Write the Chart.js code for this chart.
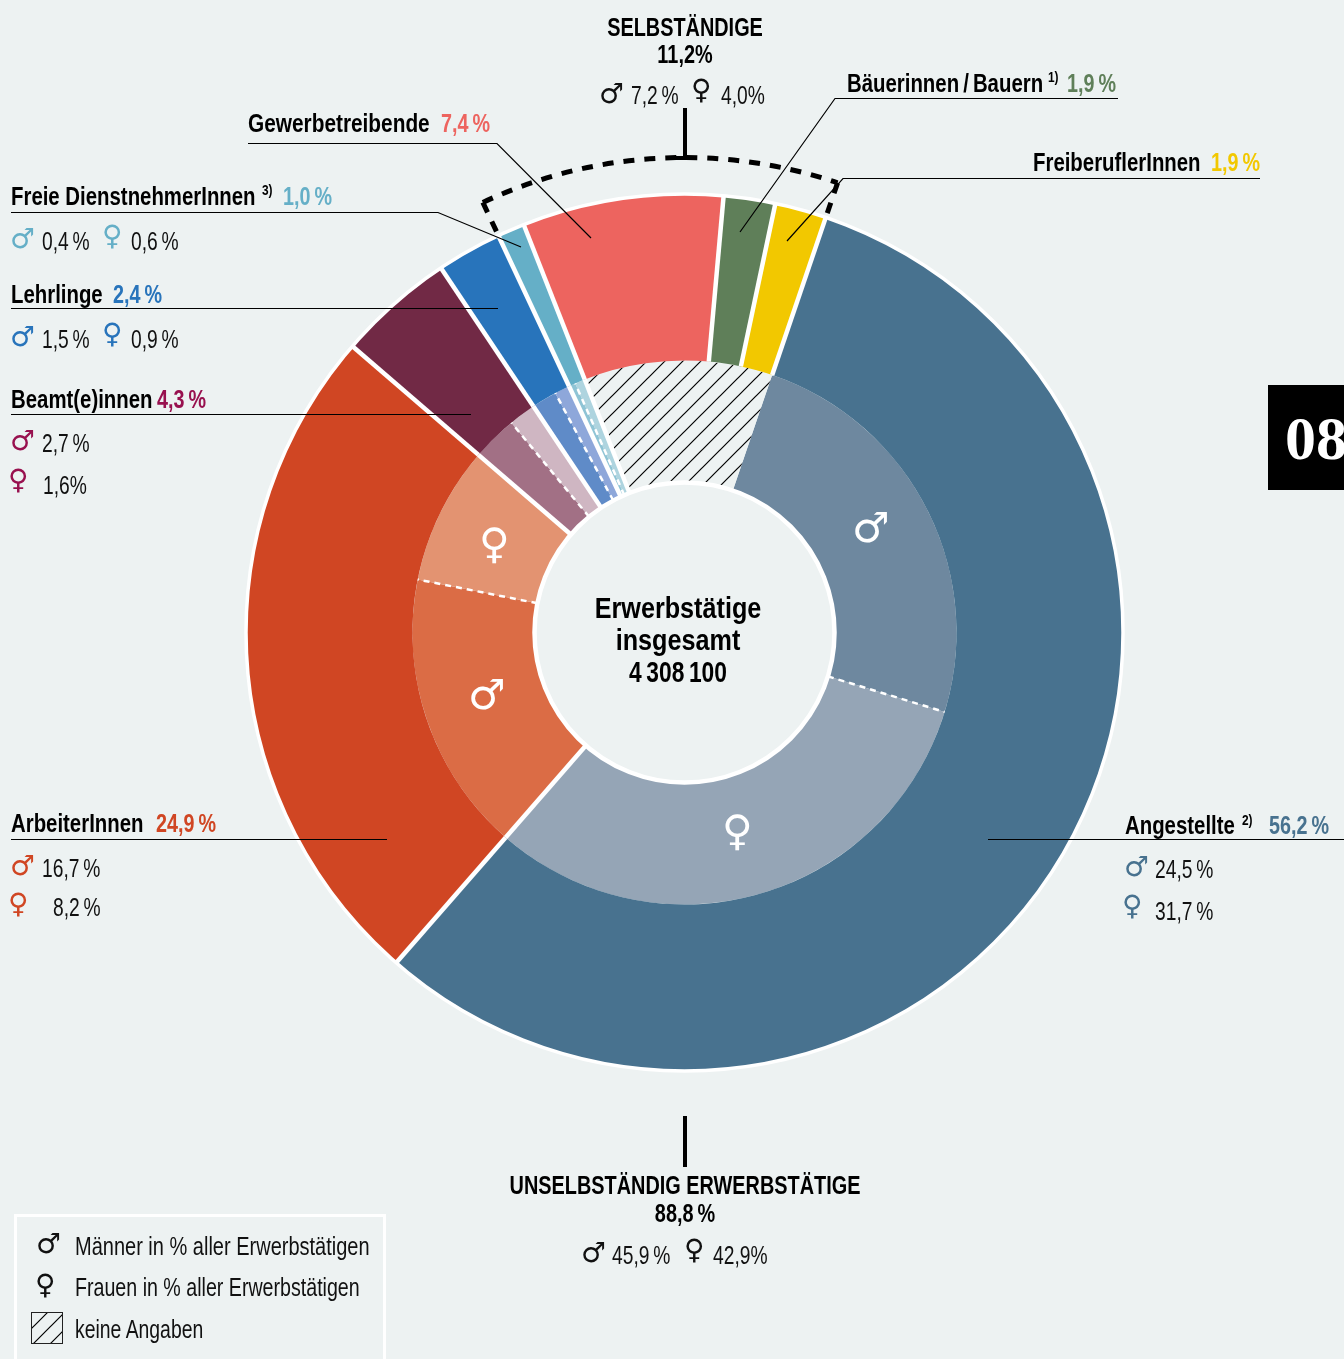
<!DOCTYPE html>
<html lang="de">
<head>
<meta charset="utf-8">
<title>Erwerbstätige</title>
<script src="https://cdn.jsdelivr.net/npm/chart.js@4/dist/chart.umd.min.js"></script>
<style>
    html, body { margin: 0; padding: 0; background: #edf2f2; }
    #page { position: relative; width: 1344px; height: 1359px; overflow: hidden; }
    #chart { position: absolute; left: 0; top: 0; }
    .t { position: absolute; line-height: 0; white-space: nowrap; font-family: "Liberation Sans", sans-serif; color: #111; transform-origin: 0 0; }
    .b { font-weight: bold; font-size: 25px; color: #000; transform: scaleX(.815); }
    .p { font-weight: bold; font-size: 25px; transform: scaleX(.79); }
    .n { font-size: 25px; transform: scaleX(.77); }
    .s { font-weight: bold; font-size: 14px; color: #000; transform: scaleX(.85); }
    .c { transform-origin: 50% 0; transform: translateX(-50%) scaleX(.795); }
    .ctr { font-size: 30px; transform: translateX(-50%) scaleX(.84); }
    .g { font-family: "DejaVu Sans", sans-serif; font-size: 28px; transform: none; }
    .big { font-family: "DejaVu Sans", sans-serif; font-size: 42px; color: #fff; }
    #tab { position: absolute; left: 1268px; top: 385px; width: 76px; height: 105px; background: #000; overflow: hidden; }
    #tab span { position: absolute; left: 17px; top: 53px; font: bold 62px "Liberation Serif", serif; line-height: 0; color: #fff; }
    #legendBox { position: absolute; left: 14px; top: 1214px; width: 366px; height: 160px; border: 3px solid #fff; }
</style>
</head>
<body>
<div id="page">
    <canvas id="chart" width="1344" height="1359"></canvas>
    <div id="legendBox"></div>
    <div id="tab"><span>08</span></div>
</div>
<script>
var groups = ['Angestellte', 'ArbeiterInnen', 'Beamt(e)innen', 'Lehrlinge', 'Freie DienstnehmerInnen', 'Gewerbetreibende', 'Bäuerinnen/Bauern', 'FreiberuflerInnen'];
var groupValues = [56.2, 24.9, 4.3, 2.4, 1.0, 7.4, 1.9, 1.9];
var groupColors = ['#48728f', '#d04623', '#712945', '#2874bb', '#65afc7', '#ed645f', '#5f7f59', '#f2c800'];

// inner ring, only the first five groups have a split
var maleValues = [24.5, 16.7, 2.7, 1.5, 0.4];
var femaleValues = [31.7, 8.2, 1.6, 0.9, 0.6];
var maleColors = ['#6e889f', '#db6c45', '#a27085', '#5f8bc8', '#8fc4d5'];
var femaleColors = ['#95a5b6', '#e39371', '#cfb6c2', '#8ea7da', '#aed4df'];
var noData = 11.2;

var BG = '#edf2f2';
var MALE = '\u2642', FEMALE = '\u2640';

function makeHatch(size) {
    var c = document.createElement('canvas');
    c.width = size;
    c.height = size;
    var g = c.getContext('2d');
    g.fillStyle = BG;
    g.fillRect(0, 0, size, size);
    g.strokeStyle = '#000';
    g.lineWidth = 1.2;
    g.beginPath();
    g.moveTo(-2, size + 2);
    g.lineTo(size + 2, -2);
    g.moveTo(-2, 2);
    g.lineTo(2, -2);
    g.moveTo(size - 2, size + 2);
    g.lineTo(size + 2, size - 2);
    g.stroke();
    return g.createPattern(c, 'repeat');
}

var innerValues = [], innerColors = [];
maleValues.forEach(function (v, i) {
    innerValues.push(v, femaleValues[i]);
    innerColors.push(maleColors[i], femaleColors[i]);
});
innerValues.push(noData);
innerColors.push(makeHatch(18));

function radial(ctx, arc, angle, r0, r1) {
    ctx.beginPath();
    ctx.moveTo(arc.x + Math.cos(angle) * r0, arc.y + Math.sin(angle) * r0);
    ctx.lineTo(arc.x + Math.cos(angle) * r1, arc.y + Math.sin(angle) * r1);
    ctx.stroke();
}

function polyline(ctx, pts) {
    ctx.beginPath();
    ctx.moveTo(pts[0][0], pts[0][1]);
    pts.slice(1).forEach(function (p) { ctx.lineTo(p[0], p[1]); });
    ctx.stroke();
}

var leaders = [
    [[248, 143.5], [497, 143.5], [591, 238]],
    [[1118, 98.5], [835, 98.5], [740, 232]],
    [[1260, 178.5], [843, 178.5], [787, 241]],
    [[11, 212.5], [438, 212.5], [521, 247]],
    [[11, 308.5], [498, 308.5]],
    [[11, 414.5], [471, 414.5]],
    [[11, 839.5], [387, 839.5]],
    [[988, 839.5], [1344, 839.5]]
];

var ringLines = {
    id: 'ringLines',
    afterDatasetsDraw: function (chart) {
        var ctx = chart.ctx;
        var outer = chart.getDatasetMeta(0).data;
        var inner = chart.getDatasetMeta(1).data;
        var a0 = outer[0];
        ctx.save();

        // white outlines
        ctx.strokeStyle = '#fff';
        ctx.lineWidth = 3.5;
        ctx.beginPath();
        ctx.arc(a0.x, a0.y, a0.outerRadius + 0.5, 0, Math.PI * 2);
        ctx.stroke();
        ctx.lineWidth = 4.5;
        outer.forEach(function (arc) {
            radial(ctx, arc, arc.startAngle, arc.innerRadius, arc.outerRadius);
        });
        inner.forEach(function (arc, i) {
            if (i > 0 && i % 2 === 0) {
                radial(ctx, arc, arc.startAngle, arc.innerRadius, arc.outerRadius);
            }
        });
        ctx.lineWidth = 2.5;
        ctx.setLineDash([6, 5]);
        inner.forEach(function (arc, i) {
            if (i % 2 === 1 && i < inner.length - 1) {
                radial(ctx, arc, arc.startAngle, arc.innerRadius, arc.outerRadius);
            }
        });
        ctx.setLineDash([]);
        ctx.lineWidth = 4.5;
        ctx.beginPath();
        ctx.arc(a0.x, a0.y, inner[0].innerRadius, 0, Math.PI * 2);
        ctx.stroke();

        // bracket over the self-employed groups
        var from = outer[4].startAngle, to = outer[7].endAngle, R = 475;
        ctx.strokeStyle = '#000';
        ctx.lineWidth = 5;
        ctx.setLineDash([11, 10]);
        ctx.beginPath();
        ctx.arc(a0.x, a0.y, R, from, to);
        ctx.stroke();
        radial(ctx, a0, from, R, a0.outerRadius + 3);
        radial(ctx, a0, to, R, a0.outerRadius + 3);
        ctx.setLineDash([]);
        ctx.lineWidth = 4;
        polyline(ctx, [[674, 158], [685, 158], [685, 108]]);
        polyline(ctx, [[685, 1116], [685, 1167]]);

        // leader lines
        ctx.strokeStyle = '#000';
        ctx.lineWidth = 1.2;
        leaders.forEach(function (pts) { polyline(ctx, pts); });

        // hatch swatch of the legend
        ctx.lineWidth = 1;
        ctx.fillStyle = makeHatch(17);
        ctx.fillRect(31.5, 1312.5, 31, 31);
        ctx.strokeStyle = '#222';
        ctx.strokeRect(31.5, 1312.5, 31, 31);
        ctx.restore();
    }
};

new Chart(document.getElementById('chart'), {
    type: 'doughnut',
    data: {
        labels: groups,
        datasets: [
            { data: groupValues, backgroundColor: groupColors, borderWidth: 0, weight: 166 },
            { data: innerValues, backgroundColor: innerColors, borderWidth: 0, weight: 122 }
        ]
    },
    options: {
        responsive: false,
        animation: false,
        rotation: 18.8,
        cutout: 150,
        layout: { padding: { left: 246.5, right: 221.5, top: 194.5, bottom: 288.5 } },
        plugins: { legend: { display: false }, tooltip: { enabled: false } }
    },
    plugins: [ringLines]
});

// x, vertical middle, text, class, colour, own horizontal scale
var texts = [
    [685, 27, 'SELBSTÄNDIGE', 'b c'], [685, 54, '11,2%', 'b c'],
    [599, 94, MALE, 'g'], [631, 95, '7,2\u2009%', 'n'], [691, 90, FEMALE, 'g'], [721, 95, '4,0%', 'n'],

    [248, 123, 'Gewerbetreibende', 'b', null, .833], [441, 123, '7,4\u2009%', 'p', '#ed645f'],
    [847, 83, 'Bäuerinnen\u2009/\u2009Bauern', 'b'], [1048, 77, '1)', 's'], [1067, 83, '1,9\u2009%', 'p', '#5f7f59'],
    [1033, 162, 'FreiberuflerInnen', 'b'], [1211, 162, '1,9\u2009%', 'p', '#f2c800'],

    [11, 196, 'Freie DienstnehmerInnen', 'b'], [262, 190, '3)', 's'], [283, 196, '1,0\u2009%', 'p', '#65afc7'],
    [10, 239, MALE, 'g', '#65afc7'], [42, 241, '0,4\u2009%', 'n'], [102, 236, FEMALE, 'g', '#65afc7'], [131, 241, '0,6\u2009%', 'n'],

    [11, 294, 'Lehrlinge', 'b'], [113, 294, '2,4\u2009%', 'p', '#2874bb'],
    [10, 337, MALE, 'g', '#2874bb'], [42, 339, '1,5\u2009%', 'n'], [102, 334, FEMALE, 'g', '#2874bb'], [131, 339, '0,9\u2009%', 'n'],

    [11, 399, 'Beamt(e)innen', 'b'], [157, 399, '4,3\u2009%', 'p', '#98114f'],
    [10, 441, MALE, 'g', '#98114f'], [42, 443, '2,7\u2009%', 'n'],
    [8, 480, FEMALE, 'g', '#98114f'], [43, 485, '1,6%', 'n'],

    [11, 823, 'ArbeiterInnen', 'b'], [156, 823, '24,9\u2009%', 'p', '#d04623'],
    [10, 866, MALE, 'g', '#d04623'], [42, 868, '16,7\u2009%', 'n'],
    [8, 904, FEMALE, 'g', '#d04623'], [53, 907, '8,2\u2009%', 'n'],

    [1125, 825, 'Angestellte', 'b'], [1242, 820, '2)', 's'], [1269, 825, '56,2\u2009%', 'p', '#48728f'],
    [1124, 867, MALE, 'g', '#48728f'], [1155, 869, '24,5\u2009%', 'n'],
    [1122, 906, FEMALE, 'g', '#48728f'], [1155, 911, '31,7\u2009%', 'n'],

    [685, 1185, 'UNSELBSTÄNDIG ERWERBSTÄTIGE', 'b c'], [685, 1213, '88,8\u2009%', 'b c'],
    [581, 1253, MALE, 'g'], [612, 1255, '45,9\u2009%', 'n'], [684, 1250, FEMALE, 'g'], [713, 1255, '42,9%', 'n'],

    [36, 1244, MALE, 'g'], [75, 1246, 'Männer in % aller Erwerbstätigen', 'n', null, .8],
    [35, 1285, FEMALE, 'g'], [75, 1287, 'Frauen in % aller Erwerbstätigen', 'n', null, .785],
    [75, 1329, 'keine Angaben', 'n', null, .775],

    [678, 608, 'Erwerbstätige', 'b c ctr'], [678, 640, 'insgesamt', 'b c ctr'], [678, 672, '4\u2009308\u2009100', 'b c ctr', null, .76],

    [852, 528, MALE, 'big'], [479, 544, FEMALE, 'big'], [468, 695, MALE, 'big'], [722, 831, FEMALE, 'big']
];

var page = document.getElementById('page');
texts.forEach(function (row) {
    var el = document.createElement('div');
    el.className = 't ' + row[3];
    el.style.left = row[0] + 'px';
    el.style.top = row[1] + 'px';
    if (row[4]) {
        el.style.color = row[4];
    }
    if (row[5]) {
        el.style.transform = (row[3].indexOf(' c') >= 0 ? 'translateX(-50%) ' : '') + 'scaleX(' + row[5] + ')';
    }
    el.textContent = row[2];
    page.appendChild(el);
});
</script>
</body>
</html>
